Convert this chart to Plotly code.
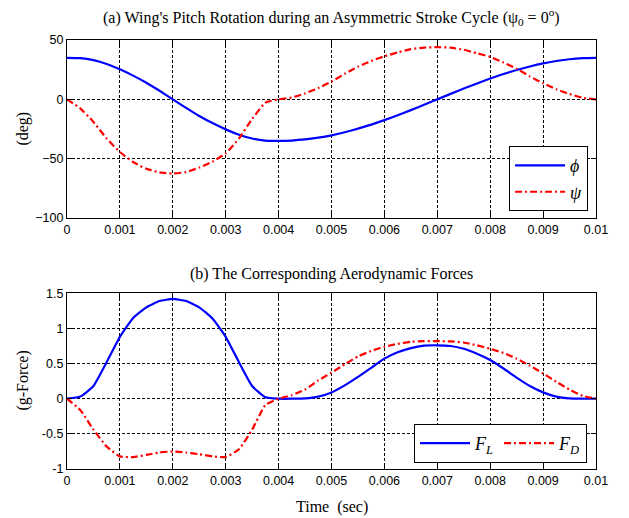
import plotly.graph_objects as go

# ---- data ----
t = [0, 0.00025, 0.0005, 0.00075, 0.001, 0.00125, 0.0015, 0.00175, 0.002, 0.00225,
     0.0025, 0.00275, 0.003, 0.00325, 0.0035, 0.00375, 0.004, 0.00425, 0.0045, 0.00475,
     0.005, 0.00525, 0.0055, 0.00575, 0.006, 0.00625, 0.0065, 0.00675, 0.007, 0.00725,
     0.0075, 0.00775, 0.008, 0.00825, 0.0085, 0.00875, 0.009, 0.00925, 0.0095, 0.00975, 0.01]

phi = [35, 34.7, 33.0, 29.8, 25.3, 20.0, 14.0, 7.2, 0, -7.2,
       -14.0, -20.0, -25.3, -29.8, -33.0, -34.7, -35, -34.7, -33.8, -32.3,
       -30.3, -27.7, -24.7, -21.3, -17.5, -13.4, -9.1, -4.6, 0, 4.6,
       9.1, 13.4, 17.5, 21.3, 24.7, 27.7, 30.3, 32.3, 33.8, 34.7, 35]

psi = [0, -7.6, -19, -33, -44.4, -52.8, -58.5, -61.5, -62.5, -61.3,
       -57.5, -52.5, -45.5, -33, -16.5, -2.8, 0, 1.6, 5, 9.5,
       15, 21.5, 27.5, 32.3, 36.3, 39.5, 42.3, 43.6, 44, 43.5,
       41.8, 38.8, 35.8, 31, 25.8, 19.3, 13.5, 8.5, 4.5, 1.3, 0]

FL = [0, 0.03, 0.18, 0.52, 0.88, 1.15, 1.30, 1.39, 1.42, 1.39,
      1.30, 1.14, 0.88, 0.52, 0.18, 0.02, 0, 0, 0.005, 0.03,
      0.09, 0.19, 0.31, 0.44, 0.57, 0.66, 0.72, 0.755, 0.76, 0.75,
      0.71, 0.64, 0.55, 0.43, 0.30, 0.18, 0.09, 0.03, 0.005, 0, 0]

FD = [0, -0.16, -0.44, -0.68, -0.82, -0.83, -0.80, -0.765, -0.75, -0.765,
      -0.79, -0.82, -0.83, -0.72, -0.44, -0.09, 0, 0.05, 0.13, 0.26,
      0.37, 0.49, 0.60, 0.68, 0.74, 0.78, 0.81, 0.82, 0.82, 0.815,
      0.80, 0.76, 0.71, 0.65, 0.57, 0.47, 0.36, 0.24, 0.13, 0.04, 0]

x_ticks = [0, 0.001, 0.002, 0.003, 0.004, 0.005, 0.006, 0.007, 0.008, 0.009, 0.01]
x_ticktext = ["0", "0.001", "0.002", "0.003", "0.004", "0.005", "0.006", "0.007", "0.008", "0.009", "0.01"]
y1_ticks = [-100, -50, 0, 50]
y2_ticks = [-1, -0.5, 0, 0.5, 1, 1.5]
y2_ticktext = ["-1", "-0.5", "0", "0.5", "1", "1.5"]

BLUE = "#0000FF"
RED = "#FF0000"
DASHDOT = "7px,3px,2px,3px"
SERIF = "Liberation Serif, Times New Roman, serif"
SANS = "Liberation Sans, Arial, sans-serif"
SMOOTH = 0.45

fig = go.Figure()
fig.add_trace(go.Scatter(x=t, y=phi, mode="lines", name="<i>ϕ</i>",
                         line=dict(color=BLUE, width=2.2, shape="spline", smoothing=SMOOTH),
                         xaxis="x", yaxis="y", legend="legend"))
fig.add_trace(go.Scatter(x=t, y=psi, mode="lines", name="<i>ψ</i>",
                         line=dict(color=RED, width=2.2, dash=DASHDOT, shape="spline", smoothing=SMOOTH),
                         xaxis="x", yaxis="y", legend="legend"))
fig.add_trace(go.Scatter(x=t, y=FL, mode="lines", name="<i>F</i><sub><i>L</i></sub>",
                         line=dict(color=BLUE, width=2.2, shape="spline", smoothing=SMOOTH),
                         xaxis="x2", yaxis="y2", legend="legend2"))
fig.add_trace(go.Scatter(x=t, y=FD, mode="lines", name="<i>F</i><sub><i>D</i></sub>",
                         line=dict(color=RED, width=2.2, dash=DASHDOT, shape="spline", smoothing=SMOOTH),
                         xaxis="x2", yaxis="y2", legend="legend2"))

axis_common = dict(showline=True, linecolor="black", linewidth=1.3, mirror="ticks",
                   ticks="inside", ticklen=5, tickcolor="black", tickwidth=1,
                   showgrid=True, gridcolor="black", gridwidth=0.8, griddash="3px,2px",
                   zeroline=False, tickfont=dict(family=SANS, size=12.5, color="black"))

y_top_dom = [0.585, 1.0]
y_bot_dom = [0.0, 0.4096]

fig.update_layout(
    width=629, height=518,
    paper_bgcolor="white", plot_bgcolor="white",
    margin=dict(l=67, r=33, t=40, b=49),
    xaxis=dict(domain=[0, 1], range=[0, 0.01], anchor="y", tickvals=x_ticks, ticktext=x_ticktext, **axis_common),
    yaxis=dict(domain=y_top_dom, range=[-100, 50], anchor="x", tickvals=y1_ticks, **axis_common),
    xaxis2=dict(domain=[0, 1], range=[0, 0.01], anchor="y2", tickvals=x_ticks, ticktext=x_ticktext, **axis_common),
    yaxis2=dict(domain=y_bot_dom, range=[-1, 1.5], anchor="x2", tickvals=y2_ticks, ticktext=y2_ticktext, **axis_common),
    legend=dict(x=0.985, y=0.601, xanchor="right", yanchor="bottom",
                bgcolor="white", bordercolor="black", borderwidth=1, itemwidth=50,
                font=dict(family=SERIF, size=18, color="black"), tracegroupgap=0),
    legend2=dict(x=0.983, y=0.014, xanchor="right", yanchor="bottom", orientation="h",
                 bgcolor="white", bordercolor="black", borderwidth=1, itemwidth=50,
                 font=dict(family=SERIF, size=18, color="black")),
    showlegend=True,
    annotations=[
        dict(text="(a) Wing's Pitch Rotation during an Asymmetric Stroke Cycle (ψ<sub>0</sub> = 0<sup>o</sup>)",
             xref="paper", yref="paper", x=0.5, y=1.0536, xanchor="center", yanchor="middle",
             showarrow=False, font=dict(family=SERIF, size=16, color="black")),
        dict(text="(b) The Corresponding Aerodynamic Forces",
             xref="paper", yref="paper", x=0.5, y=0.4545, xanchor="center", yanchor="middle",
             showarrow=False, font=dict(family=SERIF, size=16, color="black")),
        dict(text="Time  (sec)",
             xref="paper", yref="paper", x=0.5, y=-0.0886, xanchor="center", yanchor="middle",
             showarrow=False, font=dict(family=SERIF, size=16, color="black")),
        dict(text="(deg)", textangle=-90,
             xref="paper", yref="paper", x=-0.084, y=0.7925, xanchor="center", yanchor="middle",
             showarrow=False, font=dict(family=SERIF, size=16, color="black")),
        dict(text="(g-Force)", textangle=-90,
             xref="paper", yref="paper", x=-0.084, y=0.205, xanchor="center", yanchor="middle",
             showarrow=False, font=dict(family=SERIF, size=16, color="black")),
    ],
)

fig.write_html("out.html", config={"displayModeBar": False},
               post_script="document.body.style.margin='0';document.body.style.overflow='hidden';")
